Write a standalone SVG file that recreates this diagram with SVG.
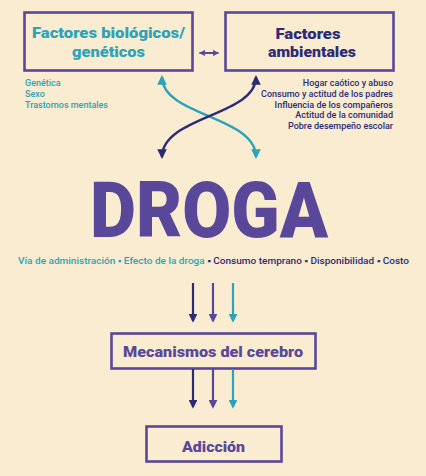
<svg xmlns="http://www.w3.org/2000/svg" width="426" height="476" viewBox="0 0 426 476">
<defs>
<style>
.box{fill:none;stroke:#59489a;stroke-width:2.6}
.t{font-family:Roboto,"Liberation Sans",sans-serif;font-weight:900}
.s{font-family:Roboto,"Liberation Sans",sans-serif;font-size:9px;font-weight:500}
.teal{fill:#2ba3b8}
.navy{fill:#2c2b78}
.purple{fill:#59489a}
.c{fill:none;stroke-width:2.4}
</style>
<marker id="mT" viewBox="0 0 10 10" refX="8" refY="5" markerWidth="4" markerHeight="4" orient="auto-start-reverse" markerUnits="strokeWidth"><path d="M0,0 L10,5 L0,10 Z" fill="#2ba3b8"/></marker>
<marker id="mN" viewBox="0 0 10 10" refX="8" refY="5" markerWidth="4" markerHeight="4" orient="auto-start-reverse" markerUnits="strokeWidth"><path d="M0,0 L10,5 L0,10 Z" fill="#2c2b78"/></marker>
<marker id="mP" viewBox="0 0 10 10" refX="8" refY="5" markerWidth="4" markerHeight="4" orient="auto-start-reverse" markerUnits="strokeWidth"><path d="M0,0 L10,5 L0,10 Z" fill="#59489a"/></marker>
<marker id="mS" viewBox="0 0 10 10" refX="9" refY="5" markerWidth="3.2" markerHeight="3.2" orient="auto-start-reverse" markerUnits="strokeWidth"><path d="M0,0 L10,5 L0,10 Z" fill="#59489a"/></marker>
</defs>
<rect width="426" height="476" fill="#faecd0"/>

<g id="bio">
<rect class="box" x="24.5" y="12.5" width="168" height="58"/>
<text class="t teal" font-size="15.5" x="108.5" y="38" text-anchor="middle" textLength="153" lengthAdjust="spacingAndGlyphs">Factores biológicos/</text>
<text class="t teal" font-size="15.5" x="108.5" y="57" text-anchor="middle" textLength="73" lengthAdjust="spacingAndGlyphs">genéticos</text>
<text class="s teal" x="25" y="86">Genética</text>
<text class="s teal" x="25" y="97">Sexo</text>
<text class="s teal" x="25" y="108" textLength="83" lengthAdjust="spacingAndGlyphs">Trastornos mentales</text>
</g>

<g id="amb">
<rect class="box" x="225.5" y="12.5" width="168" height="58"/>
<text class="t navy" font-size="15.5" x="308" y="39" text-anchor="middle" textLength="65" lengthAdjust="spacingAndGlyphs">Factores</text>
<text class="t navy" font-size="15.5" x="312" y="57" text-anchor="middle" textLength="88" lengthAdjust="spacingAndGlyphs">ambientales</text>
<g class="s navy" text-anchor="end">
<text x="393" y="86">Hogar caótico y abuso</text>
<text x="393" y="97" textLength="132" lengthAdjust="spacingAndGlyphs">Consumo y actitud de los padres</text>
<text x="393" y="108">Influencia de los compañeros</text>
<text x="393" y="118">Actitud de la comunidad</text>
<text x="393" y="129">Pobre desempeño escolar</text>
</g>
</g>

<g id="droga">
<text class="t purple" font-size="78" x="209" y="237" text-anchor="middle" textLength="238" lengthAdjust="spacingAndGlyphs">DROGA</text>
<text class="s" font-size="9.5" x="18" y="264" textLength="391" lengthAdjust="spacingAndGlyphs"><tspan class="teal">Vía de administración ▪ Efecto de la droga </tspan><tspan class="navy">▪ Consumo temprano ▪ Disponibilidad ▪ Costo</tspan></text>
</g>

<g id="mecanismos">
<rect class="box" x="111.5" y="333.5" width="204" height="35"/>
<text class="t purple" font-size="15.5" x="213" y="357" text-anchor="middle" textLength="180" lengthAdjust="spacingAndGlyphs">Mecanismos del cerebro</text>
</g>

<g id="adiccion">
<rect class="box" x="146.5" y="426.5" width="135" height="35"/>
<text class="t purple" font-size="15.5" x="213.5" y="452" text-anchor="middle" textLength="63" lengthAdjust="spacingAndGlyphs">Adicción</text>
</g>

<g id="connectors">
<line x1="199.5" y1="53" x2="218.5" y2="53" stroke="#59489a" stroke-width="2" marker-start="url(#mS)" marker-end="url(#mS)"/>
<path class="c" stroke="#2ba3b8" d="M162,77 C162,116 256,116 256,157" marker-start="url(#mT)" marker-end="url(#mT)"/>
<path class="c" stroke="#2c2b78" d="M256,77 C256,116 162,116 162,157" marker-start="url(#mN)" marker-end="url(#mN)"/>
<line x1="193" y1="283" x2="193" y2="321" stroke="#2c2b78" stroke-width="2.2" marker-end="url(#mN)"/>
<line x1="213" y1="283" x2="213" y2="321" stroke="#59489a" stroke-width="2.2" marker-end="url(#mP)"/>
<line x1="233" y1="283" x2="233" y2="321" stroke="#2ba3b8" stroke-width="2.2" marker-end="url(#mT)"/>
<line x1="193" y1="369" x2="193" y2="407" stroke="#2c2b78" stroke-width="2.2" marker-end="url(#mN)"/>
<line x1="213" y1="369" x2="213" y2="407" stroke="#59489a" stroke-width="2.2" marker-end="url(#mP)"/>
<line x1="233" y1="369" x2="233" y2="407" stroke="#2ba3b8" stroke-width="2.2" marker-end="url(#mT)"/>
</g>
</svg>
